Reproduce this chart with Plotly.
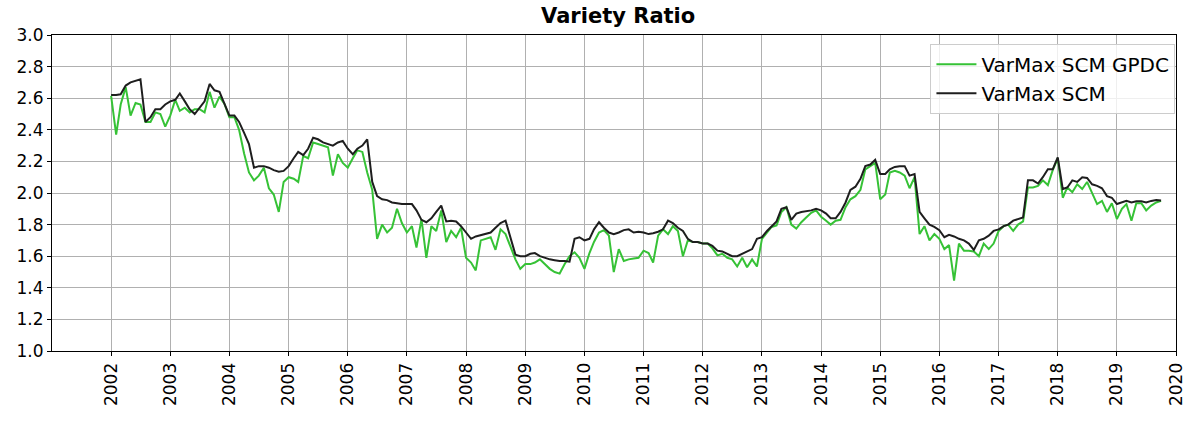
import pandas as pd
import plotly.graph_objects as go

# Monthly observations, Jan 2002 through Oct 2019
start_month = "2002-01-01"
n_months = 214

varmax_scm_gpdc = [
    # 2002
    2.615, 2.37, 2.56, 2.67, 2.49, 2.57, 2.56, 2.45, 2.45, 2.51, 2.50, 2.42,
    # 2003
    2.49, 2.59, 2.52, 2.54, 2.51, 2.53, 2.53, 2.51, 2.64, 2.54, 2.61, 2.565,
    # 2004
    2.48, 2.48, 2.40, 2.25, 2.13, 2.08, 2.11, 2.16, 2.03, 1.99, 1.88, 2.07,
    # 2005
    2.10, 2.09, 2.07, 2.235, 2.22, 2.32, 2.31, 2.30, 2.29, 2.11, 2.245, 2.19,
    # 2006
    2.16, 2.22, 2.27, 2.26, 2.13, 2.02, 1.71, 1.80, 1.75, 1.78, 1.90, 1.81,
    # 2007
    1.75, 1.79, 1.655, 1.835, 1.59, 1.79, 1.76, 1.89, 1.69, 1.76, 1.72, 1.78,
    # 2008
    1.59, 1.56, 1.51, 1.70, 1.71, 1.72, 1.64, 1.77, 1.74, 1.66, 1.58, 1.52,
    # 2009
    1.55, 1.55, 1.56, 1.58, 1.55, 1.52, 1.50, 1.49, 1.55, 1.60, 1.625, 1.59,
    # 2010
    1.52, 1.62, 1.69, 1.75, 1.765, 1.73, 1.50, 1.645, 1.57, 1.58, 1.585, 1.59,
    # 2011
    1.635, 1.62, 1.56, 1.73, 1.77, 1.74, 1.79, 1.76, 1.60, 1.70, 1.69, 1.69,
    # 2012
    1.68, 1.68, 1.65, 1.605, 1.615, 1.59, 1.58, 1.535, 1.59, 1.53, 1.58, 1.535,
    # 2013
    1.71, 1.75, 1.785, 1.795, 1.88, 1.91, 1.80, 1.775, 1.815, 1.845, 1.875, 1.89,
    # 2014
    1.85, 1.825, 1.80, 1.825, 1.83, 1.91, 1.96, 1.98, 2.02, 2.15, 2.17, 2.19,
    # 2015
    1.96, 1.99, 2.13, 2.14, 2.13, 2.11, 2.03, 2.10, 1.74, 1.79, 1.70, 1.74,
    # 2016
    1.71, 1.645, 1.67, 1.445, 1.68, 1.635, 1.635, 1.63, 1.60, 1.68, 1.645, 1.68,
    # 2017
    1.76, 1.79, 1.80, 1.76, 1.80, 1.82, 2.035, 2.035, 2.045, 2.08, 2.05, 2.145,
    # 2018
    2.22, 1.97, 2.035, 2.005, 2.055, 2.025, 2.07, 1.995, 1.93, 1.95, 1.88, 1.935,
    # 2019
    1.835, 1.90, 1.93, 1.825, 1.935, 1.935, 1.89, 1.92, 1.94, 1.95,
]

varmax_scm = [
    # 2002
    2.62, 2.62, 2.625, 2.68, 2.70, 2.71, 2.72, 2.45, 2.48, 2.53, 2.53, 2.56,
    # 2003
    2.58, 2.59, 2.63, 2.58, 2.53, 2.50, 2.54, 2.58, 2.69, 2.65, 2.64, 2.57,
    # 2004
    2.49, 2.49, 2.45, 2.38, 2.31, 2.16, 2.17, 2.17, 2.16, 2.145, 2.135, 2.14,
    # 2005
    2.17, 2.22, 2.26, 2.24, 2.28, 2.35, 2.34, 2.32, 2.31, 2.30, 2.32, 2.33,
    # 2006
    2.28, 2.245, 2.28, 2.30, 2.34, 2.07, 1.98, 1.96, 1.955, 1.94, 1.935, 1.93,
    # 2007
    1.93, 1.93, 1.89, 1.83, 1.815, 1.84, 1.88, 1.92, 1.82, 1.825, 1.82, 1.79,
    # 2008
    1.75, 1.71, 1.725, 1.735, 1.74, 1.75, 1.78, 1.81, 1.825, 1.72, 1.61, 1.60,
    # 2009
    1.60, 1.615, 1.62, 1.60, 1.59, 1.58, 1.575, 1.57, 1.57, 1.565, 1.71, 1.72,
    # 2010
    1.70, 1.71, 1.77, 1.815, 1.78, 1.75, 1.74, 1.75, 1.765, 1.77, 1.75, 1.755,
    # 2011
    1.75, 1.74, 1.745, 1.755, 1.77, 1.825, 1.81, 1.78, 1.76, 1.71, 1.69, 1.69,
    # 2012
    1.68, 1.68, 1.665, 1.635, 1.63, 1.615, 1.60, 1.60, 1.615, 1.63, 1.645, 1.71,
    # 2013
    1.72, 1.76, 1.79, 1.82, 1.90, 1.91, 1.83, 1.87, 1.88, 1.885, 1.89, 1.90,
    # 2014
    1.89, 1.87, 1.84, 1.84, 1.88, 1.94, 2.02, 2.04, 2.09, 2.17, 2.18, 2.21,
    # 2015
    2.12, 2.12, 2.15, 2.165, 2.17, 2.17, 2.11, 2.12, 1.88, 1.84, 1.80, 1.785,
    # 2016
    1.765, 1.72, 1.735, 1.725, 1.71, 1.70, 1.68, 1.64, 1.70, 1.71, 1.73, 1.76,
    # 2017
    1.77, 1.79, 1.80, 1.825, 1.835, 1.845, 2.08, 2.08, 2.06, 2.10, 2.15, 2.15,
    # 2018
    2.225, 2.025, 2.035, 2.08, 2.07, 2.10, 2.095, 2.055, 2.045, 2.03, 1.98, 1.97,
    # 2019
    1.93, 1.94, 1.95, 1.94, 1.947, 1.947, 1.94, 1.95, 1.955, 1.953,
]

year_ticks = list(range(2002, 2021))
y_ticks = [1.0, 1.2, 1.4, 1.6, 1.8, 2.0, 2.2, 2.4, 2.6, 2.8, 3.0]

dates = pd.date_range(start_month, periods=n_months, freq="MS")
tick_dates = [pd.Timestamp(f"{y}-01-01") for y in year_ticks]

FONT = "DejaVu Sans"

fig = go.Figure()
fig.add_trace(go.Scatter(
    x=dates, y=varmax_scm_gpdc, mode="lines", name="VarMax SCM GPDC",
    line=dict(color="#36c236", width=2),
))
fig.add_trace(go.Scatter(
    x=dates, y=varmax_scm, mode="lines", name="VarMax SCM",
    line=dict(color="#1e1e1e", width=2),
))

axis_common = dict(
    showline=True, linecolor="black", linewidth=1, mirror=True,
    showgrid=True, gridcolor="#b0b0b0", gridwidth=1,
    ticks="outside", ticklen=4, tickcolor="black",
    tickfont=dict(family=FONT, size=17, color="black"),
    zeroline=False,
)

fig.update_layout(
    width=1198, height=424,
    margin=dict(l=52, r=13, t=35, b=73),
    paper_bgcolor="white", plot_bgcolor="white",
    title=dict(
        text="<b>Variety Ratio</b>", x=0.516, xanchor="center",
        y=0.962, yanchor="middle", yref="container",
        font=dict(family=FONT, size=21, color="black"),
    ),
    xaxis=dict(
        type="date",
        range=[pd.Timestamp("2001-01-01"), pd.Timestamp("2020-01-01")],
        tickvals=tick_dates, ticktext=[str(y) for y in year_ticks],
        tickangle=-90,
        **axis_common,
    ),
    yaxis=dict(
        range=[1.0, 3.0], tickvals=y_ticks,
        ticktext=[f"{v:.1f}" for v in y_ticks],
        **axis_common,
    ),
    legend=dict(
        x=0.9995, y=0.972, xanchor="right", yanchor="top",
        bgcolor="rgba(255,255,255,0.8)", bordercolor="#cccccc", borderwidth=1,
        font=dict(family=FONT, size=20, color="black"),
        tracegroupgap=0, itemwidth=40,
    ),
    showlegend=True,
)

fig.write_html("out.html")
